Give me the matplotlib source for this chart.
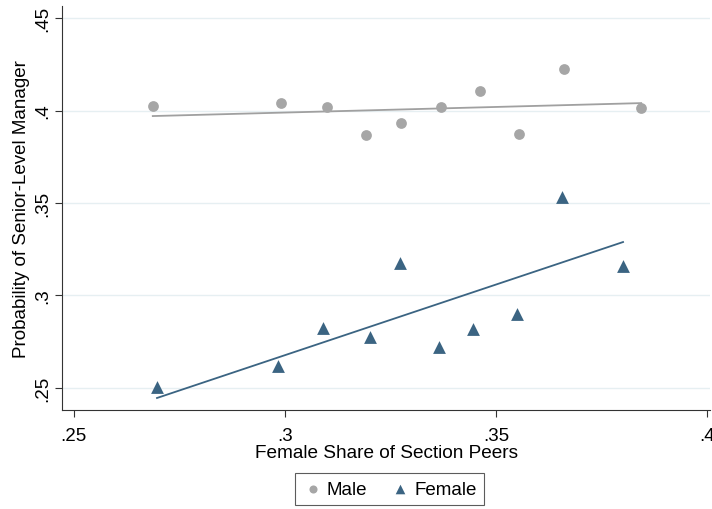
import numpy as np
import matplotlib
matplotlib.use("Agg")
import matplotlib.pyplot as plt

plt.rcParams['font.family'] = ['Liberation Sans', 'DejaVu Sans']

# binned means
male_x = [0.2687, 0.2991, 0.3100, 0.3192, 0.3275, 0.3370, 0.3462, 0.3555, 0.3661, 0.3844]
male_y = [0.4024, 0.4041, 0.4019, 0.3868, 0.3932, 0.4019, 0.4105, 0.3873, 0.4224, 0.4014]
female_x = [0.2697, 0.2983, 0.3090, 0.3201, 0.3273, 0.3365, 0.3445, 0.3550, 0.3656, 0.3801]
female_y = [0.2505, 0.2619, 0.2824, 0.2776, 0.3176, 0.2722, 0.2819, 0.2900, 0.3532, 0.3159]

# fitted line end points (fit is on the underlying data)
male_fit_x = [0.2687, 0.3844]
male_fit_y = [0.3970, 0.4040]
female_fit_x = [0.2697, 0.3801]
female_fit_y = [0.2446, 0.3289]

x_ticks = [0.25, 0.3, 0.35, 0.4]
x_labels = ['.25', '.3', '.35', '.4']
y_ticks = [0.25, 0.3, 0.35, 0.4, 0.45]
y_labels = ['.25', '.3', '.35', '.4', '.45']

MALE_COL = '#a6a6a6'
FEMALE_COL = '#3b6482'

fig = plt.figure(figsize=(7.12, 5.10), dpi=100)
ax = fig.add_axes([0.0871, 0.1941, 0.9101, 0.7922])

for y in y_ticks:
    ax.axhline(y, color='#e6eff2', lw=1.0, zorder=0)

ax.scatter(male_x, male_y, s=60, marker='o', color=MALE_COL, label='Male', zorder=3, linewidths=0)
ax.scatter(female_x, female_y, s=85, marker='^', color=FEMALE_COL, label='Female', zorder=3, linewidths=0)

ax.plot(male_fit_x, male_fit_y, color='#a0a0a0', lw=1.3, zorder=2)
ax.plot(female_fit_x, female_fit_y, color=FEMALE_COL, lw=1.3, zorder=2)

ax.set_xlim(0.2472, 0.4007)
ax.set_ylim(0.2381, 0.4565)
ax.set_xticks(x_ticks)
ax.set_xticklabels(x_labels)
ax.set_yticks(y_ticks)
ax.set_yticklabels(y_labels, rotation=90, va='center')
ax.tick_params(labelsize=13.5, length=5, width=0.8, color='#333333', pad=3)
ax.tick_params(axis='x', pad=7)
ax.spines['top'].set_visible(False)
ax.spines['right'].set_visible(False)
ax.spines['left'].set_color('#333333')
ax.spines['bottom'].set_color('#333333')

ax.set_xlabel('Female Share of Section Peers', fontsize=13.7, labelpad=0)
ax.set_ylabel('Probability of Senior-Level Manager', fontsize=13.5, labelpad=3)

leg = fig.legend(loc='center', bbox_to_anchor=(0.547, 0.0392), ncol=2, fontsize=13.5,
                 frameon=True, fancybox=False, edgecolor='#333333', handletextpad=0.2,
                 columnspacing=1.2, borderpad=0.4, handlelength=1.1, markerscale=0.75)
leg.get_frame().set_linewidth(0.8)

fig.savefig('out.png', dpi=100)
